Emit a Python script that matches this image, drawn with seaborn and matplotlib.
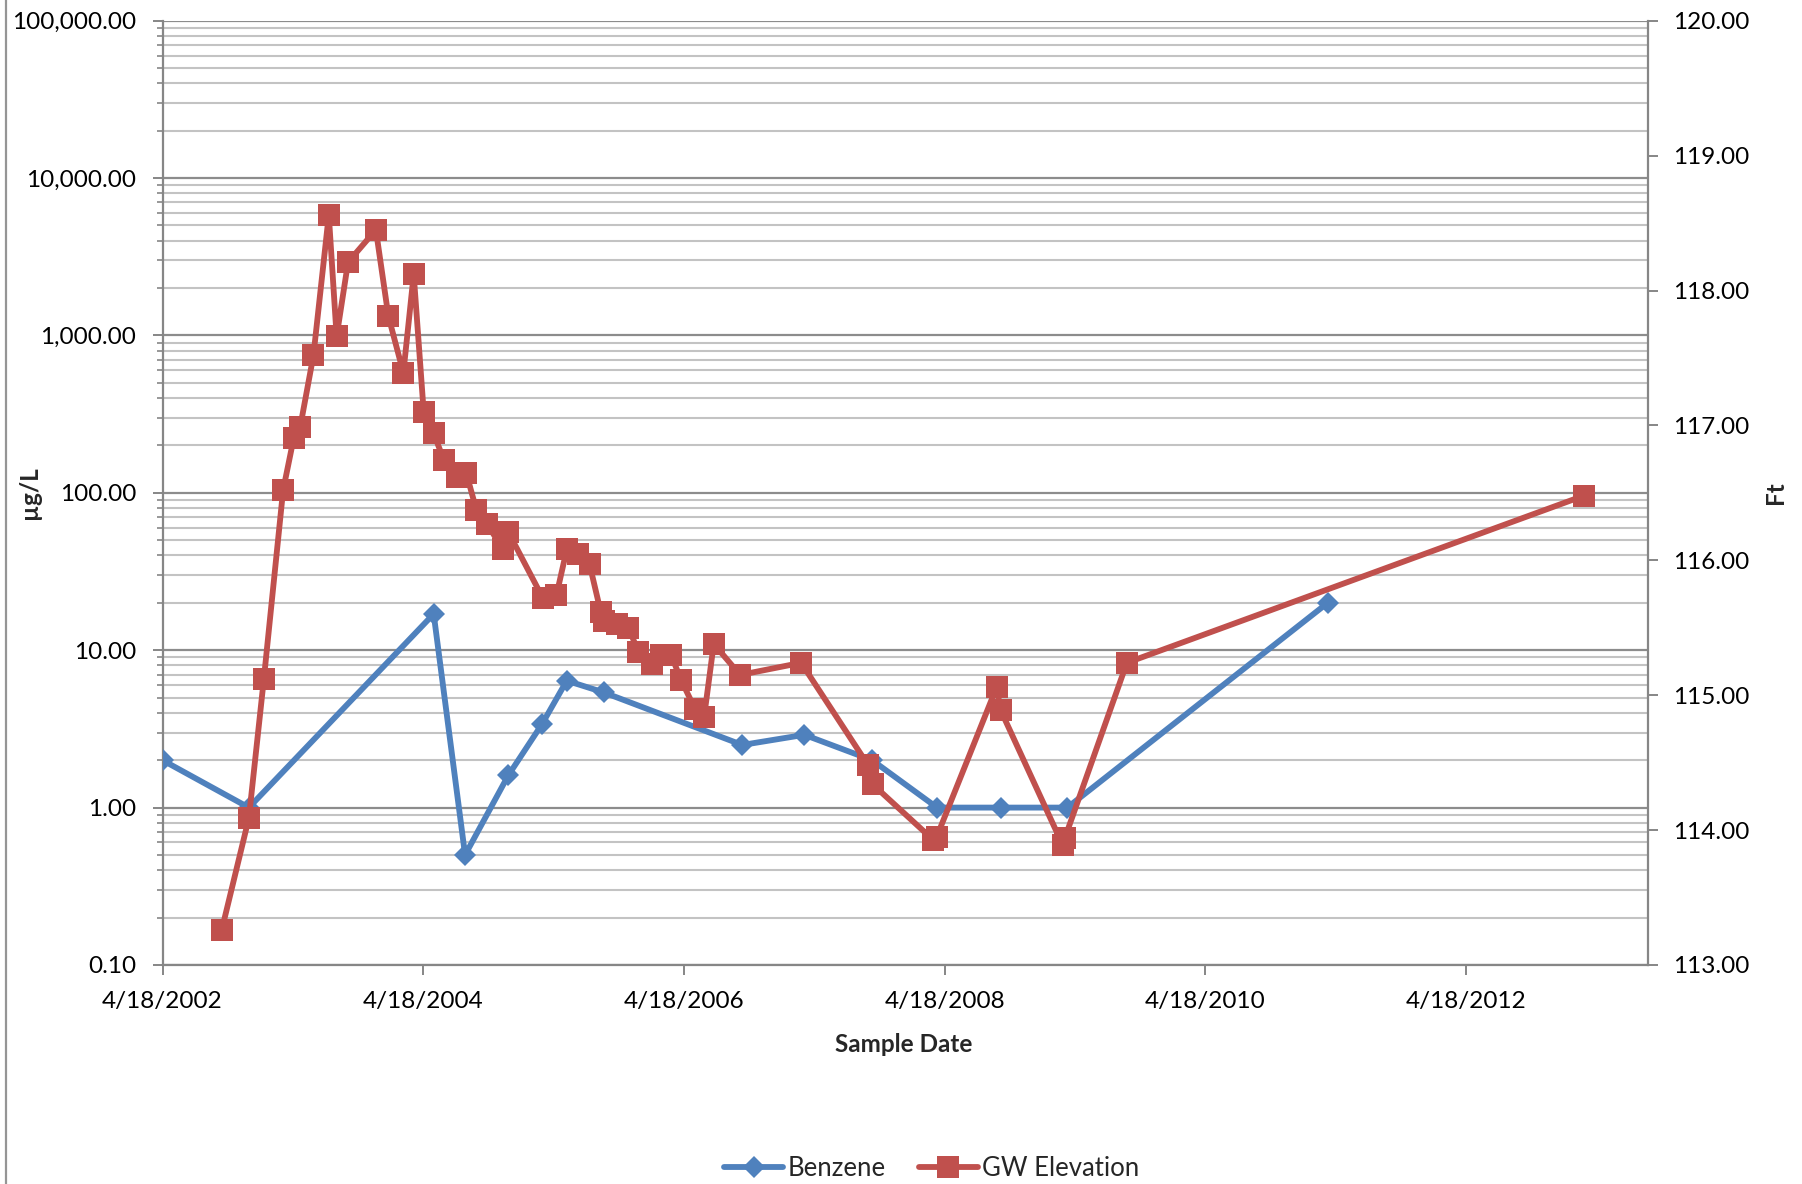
import matplotlib
matplotlib.use("Agg")
import matplotlib.pyplot as plt
import matplotlib.dates as mdates
from matplotlib.ticker import LogLocator, FuncFormatter, FixedLocator, NullFormatter
from matplotlib.lines import Line2D
import seaborn as sns
import pandas as pd

# Benzene concentrations (µg/L)
benzene_dates = ["2002-04-18", "2002-12-16", "2004-05-17", "2004-08-13", "2004-12-12",
                 "2005-03-17", "2005-05-25", "2005-09-05", "2006-09-29", "2007-03-22",
                 "2007-09-28", "2008-03-28", "2008-09-22", "2009-03-28", "2011-03-28"]
benzene_ugl = [2.0, 1.0, 17.0, 0.5, 1.6, 3.4, 6.4, 5.4, 2.5, 2.9, 2.0, 1.0, 1.0, 1.0, 20.0]

# Groundwater elevation (ft)
gw_dates = ["2002-10-01", "2002-12-16", "2003-01-27", "2003-03-22", "2003-04-21",
            "2003-05-09", "2003-06-15", "2003-07-28", "2003-08-19", "2003-09-20",
            "2003-12-07", "2004-01-11", "2004-02-22", "2004-03-22", "2004-04-19",
            "2004-05-17", "2004-06-15", "2004-07-21", "2004-08-16", "2004-09-14",
            "2004-10-13", "2004-11-28", "2004-12-12", "2005-03-19", "2005-04-26",
            "2005-05-25", "2005-06-26", "2005-07-28", "2005-08-28", "2005-09-05",
            "2005-10-13", "2005-11-14", "2005-12-12", "2006-01-18", "2006-02-14",
            "2006-03-13", "2006-04-11", "2006-05-19", "2006-06-14", "2006-07-11",
            "2006-09-23", "2007-03-13", "2007-09-17", "2007-09-29", "2008-03-16",
            "2008-03-27", "2008-09-11", "2008-09-22", "2009-03-15", "2009-03-21",
            "2009-09-11", "2013-03-16"]
gw_ft = [113.26, 114.09, 115.12, 116.52, 116.91,
         116.99, 117.52, 118.56, 117.66, 118.21,
         118.45, 117.81, 117.39, 118.12, 117.10,
         116.94, 116.74, 116.62, 116.65, 116.37,
         116.27, 116.08, 116.21, 115.72, 115.74,
         116.08, 116.05, 115.97, 115.62, 115.55,
         115.53, 115.50, 115.32, 115.23, 115.30,
         115.30, 115.11, 114.90, 114.84, 115.38,
         115.15, 115.24, 114.48, 114.34, 113.93,
         113.95, 115.06, 114.89, 113.89, 113.94,
         115.24, 116.48]

x_tick_dates = ["2002-04-18", "2004-04-18", "2006-04-18", "2008-04-18", "2010-04-18", "2012-04-18"]
x_min, x_max = "2002-04-18", "2013-09-12"

BLUE = "#4F81BD"
RED = "#C0504D"
AXIS_GRAY = "#868686"
MAJOR_GRID = "#8C8C8C"
MINOR_GRID = "#C3C3C3"
LW = 4.2
DIAMOND_MS = 11.0
SQUARE_MS = 15.5

sns.set_style("white")
plt.rcParams["font.family"] = ["Lato", "DejaVu Sans"]

benz = pd.DataFrame({"date": pd.to_datetime(benzene_dates), "value": benzene_ugl})
gw = pd.DataFrame({"date": pd.to_datetime(gw_dates), "value": gw_ft})

fig = plt.figure(figsize=(18.02, 11.84), dpi=100)
ax = fig.add_axes([0.0902, 0.185, 0.8246, 0.7975])

sns.lineplot(data=benz, x="date", y="value", ax=ax, color=BLUE, lw=LW,
             marker="D", markersize=DIAMOND_MS, markeredgewidth=0, sort=False, zorder=3)
ax.set_yscale("log")
ax.set_ylim(0.1, 100000)
ax.yaxis.set_major_locator(LogLocator(base=10, numticks=10))
ax.yaxis.set_minor_locator(LogLocator(base=10, subs=range(2, 10), numticks=20))
ax.yaxis.set_major_formatter(FuncFormatter(lambda v, p: f"{v:,.2f}"))
ax.yaxis.set_minor_formatter(NullFormatter())
ax.grid(True, which="major", axis="y", color=MAJOR_GRID, lw=1.6)
ax.grid(True, which="minor", axis="y", color=MINOR_GRID, lw=1.5)
ax.set_axisbelow(True)

ax2 = ax.twinx()
sns.lineplot(data=gw, x="date", y="value", ax=ax2, color=RED, lw=LW,
             marker="s", markersize=SQUARE_MS, markeredgewidth=0, sort=False, zorder=3)
ax2.set_ylim(113, 120)
ax2.yaxis.set_major_locator(FixedLocator([113, 114, 115, 116, 117, 118, 119, 120]))
ax2.yaxis.set_major_formatter(FuncFormatter(lambda v, p: f"{v:.2f}"))

ax.set_xlim(pd.Timestamp(x_min), pd.Timestamp(x_max))
ax.xaxis.set_major_locator(FixedLocator(mdates.date2num(pd.to_datetime(x_tick_dates))))
ax.xaxis.set_major_formatter(FuncFormatter(
    lambda v, p: f"{mdates.num2date(v).month}/{mdates.num2date(v).day}/{mdates.num2date(v).year}"))

for a in (ax, ax2):
    a.spines["top"].set_visible(False)
    for side in ("left", "right", "bottom"):
        a.spines[side].set_color(AXIS_GRAY)
        a.spines[side].set_linewidth(1.6)
ax.spines["right"].set_visible(False)
ax2.spines["left"].set_visible(False)
ax2.spines["bottom"].set_visible(False)

tick_font = 17.5
ax.tick_params(axis="y", which="major", direction="out", length=7, width=1.4,
               color=AXIS_GRAY, labelsize=tick_font, labelcolor="black", pad=12, left=True)
ax.tick_params(axis="y", which="minor", direction="out", length=4, width=1.2,
               color=AXIS_GRAY, left=True)
ax.tick_params(axis="x", which="major", direction="out", length=7, width=1.4,
               color=AXIS_GRAY, labelsize=tick_font, labelcolor="black", pad=12, bottom=True)
ax2.tick_params(axis="y", which="major", direction="out", length=7, width=1.4,
                color=AXIS_GRAY, labelsize=tick_font, labelcolor="black", pad=11, right=True)

ax.set_xlabel("Sample Date", fontsize=17.5, fontweight="bold")
ax.xaxis.set_label_coords(0.499, -0.0719)
ax.set_ylabel("µg/L", fontsize=17.5, fontweight="bold")
ax.yaxis.set_label_coords(-0.0818, 0.5)
ax2.set_ylabel("Ft", fontsize=17.5, fontweight="bold")
ax2.yaxis.set_label_coords(1.0778, 0.5)

# Chart-area border on the left edge
fig.add_artist(Line2D([0.0036, 0.0036], [0, 1], transform=fig.transFigure,
                      color="#959595", lw=1.6))

handles = [
    Line2D([], [], color=BLUE, lw=LW, marker="D", markersize=DIAMOND_MS, markeredgewidth=0),
    Line2D([], [], color=RED, lw=LW, marker="s", markersize=SQUARE_MS, markeredgewidth=0),
]
fig.legend(handles, ["Benzene", "GW Elevation"], loc="center",
           bbox_to_anchor=(0.517, 0.013), ncol=2, frameon=False, fontsize=18.5,
           handlelength=2.3, columnspacing=1.3, handletextpad=0.15)

fig.savefig("out.png", dpi=100, facecolor="white")
